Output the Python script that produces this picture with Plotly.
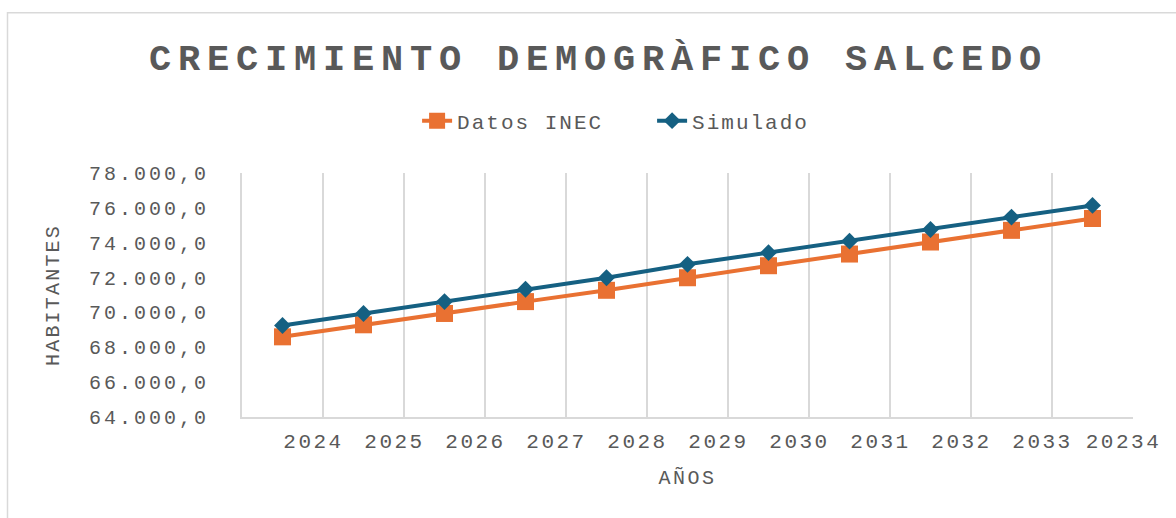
import plotly.graph_objects as go

years = ["2024", "2025", "2026", "2027", "2028", "2029", "2030", "2031", "2032", "2033", "20234"]
datos_inec = [68600, 69290, 69940, 70620, 71270, 71990, 72680, 73350, 74040, 74710, 75390]
simulado = [69250, 69940, 70620, 71330, 71990, 72760, 73430, 74090, 74760, 75470, 76140]
y_ticks = [64000, 66000, 68000, 70000, 72000, 74000, 76000, 78000]

TITLE = "CRECIMIENTO DEMOGRÀFICO SALCEDO"
X_TITLE = "AÑOS"
Y_TITLE = "HABITANTES"

FONT = "Liberation Mono, Courier New, monospace"
GRAY = "#595959"
GRID = "#d9d9d9"
ORANGE = "#E97132"
BLUE = "#156082"


def spaced(text, px):
    return f'<span style="letter-spacing:{px}px">{text}</span>'


def es_number(v):
    return f"{v:,.1f}".replace(",", "X").replace(".", ",").replace("X", ".")


fig = go.Figure()
fig.add_trace(go.Scatter(
    x=years, y=datos_inec, name=spaced("Datos INEC", 2), mode="lines+markers",
    line=dict(color=ORANGE, width=4),
    marker=dict(symbol="square", size=17, color=ORANGE),
))
fig.add_trace(go.Scatter(
    x=years, y=simulado, name=spaced("Simulado", 2), mode="lines+markers",
    line=dict(color=BLUE, width=4),
    marker=dict(symbol="diamond", size=13, color=BLUE),
))

fig.update_layout(
    width=1176, height=518,
    margin=dict(l=242, r=43, t=173, b=101, autoexpand=False),
    paper_bgcolor="white", plot_bgcolor="white",
    separators=",.",
    font=dict(family=FONT, color=GRAY, size=20),
    title=dict(
        text="<b>" + spaced(TITLE, 6.8) + "</b>",
        font=dict(family=FONT, size=37, color=GRAY),
        x=0.509, xref="container", xanchor="center",
        y=1 - 57 / 518, yref="container", yanchor="middle",
    ),
    legend=dict(
        orientation="h", xref="container", x=0.5545, xanchor="center",
        yref="container", y=1 - 121 / 518, yanchor="middle",
        font=dict(family=FONT, size=21, color=GRAY),
        entrywidth=190, entrywidthmode="pixels", traceorder="normal",
    ),
    xaxis=dict(
        type="category",
        range=[-0.5, len(years) - 0.5],
        tickson="boundaries",
        tickvals=years,
        ticktext=[spaced(y, 2.5) for y in years],
        tickangle=0,
        ticks="",
        ticklabelshift=31,
        ticklabelstandoff=4,
        showgrid=True, gridcolor=GRID, gridwidth=2,
        showline=True, linecolor=GRID, linewidth=2,
        tickfont=dict(family=FONT, size=21, color=GRAY),
        title=dict(text=spaced(X_TITLE, 2.5), font=dict(family=FONT, size=20, color=GRAY), standoff=17),
        automargin=False,
    ),
    yaxis=dict(
        range=[y_ticks[0], y_ticks[-1]],
        tickvals=y_ticks,
        ticktext=[spaced(es_number(v), 3) for v in y_ticks],
        showgrid=False, zeroline=False,
        showline=True, linecolor=GRID, linewidth=2,
        ticks="", ticklabelstandoff=27,
        tickfont=dict(family=FONT, size=20, color=GRAY),
        title=dict(text=spaced(Y_TITLE, 2.2), font=dict(family=FONT, size=20, color=GRAY), standoff=24),
        automargin=False,
    ),
    shapes=[dict(
        type="rect", xref="paper", yref="paper",
        x0=(7.5 - 242) / 891, x1=(1190 - 242) / 891,
        y0=(417 - 530) / 244, y1=(417 - 12.7) / 244,
        line=dict(color=GRID, width=1.5), fillcolor="rgba(0,0,0,0)", layer="below",
    )],
)

fig.write_html("out.html", config={"displayModeBar": False},
               post_script="document.body.style.margin='0';")
